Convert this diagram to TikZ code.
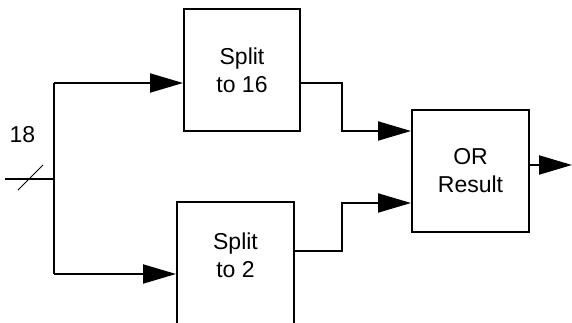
\documentclass[tikz,border=0pt]{standalone}
\usepackage{fontspec}
\setmainfont{Liberation Sans}
\usetikzlibrary{arrows.meta}
\tikzset{block/.style={draw,line width=2pt,inner sep=0pt,align=center}}
\tikzset{wire/.style={line width=2pt}}
\tikzset{arrow/.style={wire,-{Triangle[length=33pt,width=19pt]}}}
\begin{document}
\begin{tikzpicture}[x=1pt,y=-1pt,font=\fontsize{23}{28}\selectfont]
                    \useasboundingbox (0,0) rectangle (572,323);
                    \clip (0,0) rectangle (572,323);

                    \node[block,minimum width=116pt,minimum height=122pt] (split16) at (242,70.5) {Split\\to 16};
                    \node[block,minimum width=117pt,minimum height=150pt,anchor=north] (split2) at (235.5,201) {};
                    \node[align=center] (split2text) at (235.5,255.5) {Split\\to 2};
                    \node[block,minimum width=117pt,minimum height=122pt] (or) at (470.5,171) {OR\\Result};

                    \coordinate (in) at (5,179);
                    \coordinate (bus in) at (54,179);
                    \coordinate (bus top) at (54,83);
                    \coordinate (bus bot) at (54,274);
                    \coordinate (out) at (572,165);
                    \node (width) at (22.5,135) {18};
                    \coordinate (slash a) at (18,190);
                    \coordinate (slash b) at (43,165);

                    \draw[wire] (in) -- (bus in);
                    \draw[line width=1pt] (slash a) -- (slash b);
                    \draw[wire] (bus top) -- (bus bot);
                    \draw[arrow] (bus top) -- (split16.west |- bus top);
                    \draw[arrow] (bus bot) -- (split2.west |- bus bot);

                    \draw[arrow] (split16.east |- 0,83) -- (342,83) -- (342,131) -- (or.west |- 0,131);
                    \draw[arrow] (split2.east |- 0,251) -- (342,251) -- (342,203) -- (or.west |- 0,203);
                    \draw[arrow] (or.east |- out) -- (out);

                \end{tikzpicture}
\end{document}
